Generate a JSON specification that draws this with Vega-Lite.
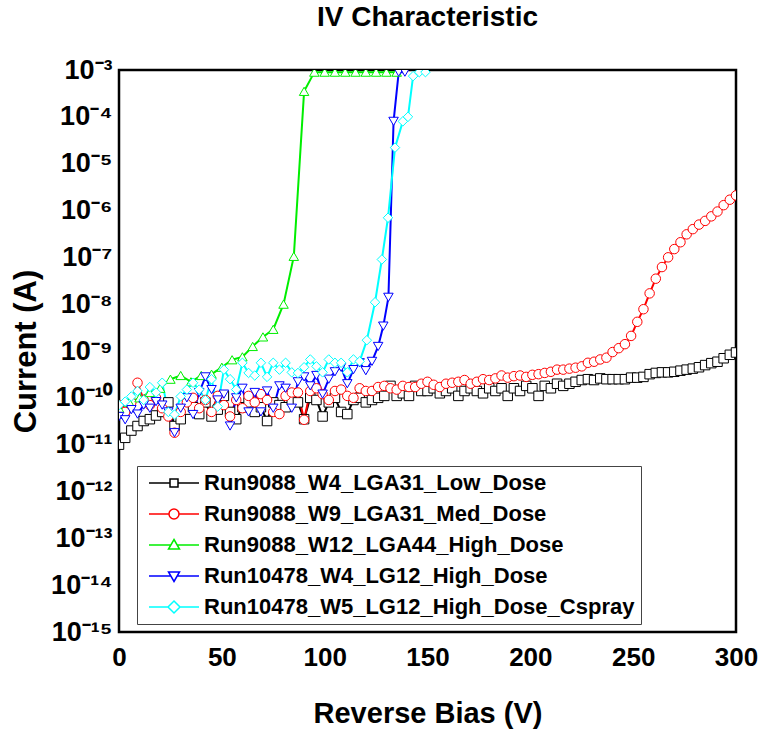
{
  "$schema": "https://vega.github.io/schema/vega-lite/v6.json",
  "width": 617,
  "height": 562,
  "autosize": "none",
  "padding": {"left": 119, "top": 70, "right": 34, "bottom": 104},
  "background": "white",
  "config": {"view": {"stroke": "black", "strokeWidth": 2.5}},
  "title": {"text": "IV Characteristic", "font": "Liberation Sans", "fontSize": 28, "fontWeight": "bold", "color": "black", "anchor": "middle", "offset": 24},
  "datasets": {
    "iv": [
      {"s":"Run9088_W4_LGA31_Low_Dose","V":0,"I":1.0e-11},{"s":"Run9088_W4_LGA31_Low_Dose","V":3,"I":1.4e-11},{"s":"Run9088_W4_LGA31_Low_Dose","V":6,"I":2.0e-11},{"s":"Run9088_W4_LGA31_Low_Dose","V":9,"I":2.5e-11},{"s":"Run9088_W4_LGA31_Low_Dose","V":12,"I":3.2e-11},{"s":"Run9088_W4_LGA31_Low_Dose","V":15,"I":3.5e-11},{"s":"Run9088_W4_LGA31_Low_Dose","V":18,"I":4.2e-11},{"s":"Run9088_W4_LGA31_Low_Dose","V":21,"I":5.0e-11},{"s":"Run9088_W4_LGA31_Low_Dose","V":24,"I":8.0e-11},{"s":"Run9088_W4_LGA31_Low_Dose","V":27,"I":2.5e-11},
      {"s":"Run9088_W4_LGA31_Low_Dose","V":30,"I":3.5e-11},{"s":"Run9088_W4_LGA31_Low_Dose","V":33,"I":5.6e-11},{"s":"Run9088_W4_LGA31_Low_Dose","V":36,"I":6.3e-11},{"s":"Run9088_W4_LGA31_Low_Dose","V":39,"I":4.5e-11},{"s":"Run9088_W4_LGA31_Low_Dose","V":42,"I":8.0e-11},{"s":"Run9088_W4_LGA31_Low_Dose","V":45,"I":4.0e-11},{"s":"Run9088_W4_LGA31_Low_Dose","V":48,"I":5.6e-11},{"s":"Run9088_W4_LGA31_Low_Dose","V":51,"I":1.1e-10},{"s":"Run9088_W4_LGA31_Low_Dose","V":54,"I":5.0e-11},{"s":"Run9088_W4_LGA31_Low_Dose","V":57,"I":3.5e-11},
      {"s":"Run9088_W4_LGA31_Low_Dose","V":60,"I":6.3e-11},{"s":"Run9088_W4_LGA31_Low_Dose","V":63,"I":8.0e-11},{"s":"Run9088_W4_LGA31_Low_Dose","V":66,"I":5.0e-11},{"s":"Run9088_W4_LGA31_Low_Dose","V":69,"I":6.3e-11},{"s":"Run9088_W4_LGA31_Low_Dose","V":72,"I":3.2e-11},{"s":"Run9088_W4_LGA31_Low_Dose","V":75,"I":8.0e-11},{"s":"Run9088_W4_LGA31_Low_Dose","V":78,"I":7.0e-11},{"s":"Run9088_W4_LGA31_Low_Dose","V":81,"I":6.3e-11},{"s":"Run9088_W4_LGA31_Low_Dose","V":84,"I":9.0e-11},{"s":"Run9088_W4_LGA31_Low_Dose","V":87,"I":8.0e-11},
      {"s":"Run9088_W4_LGA31_Low_Dose","V":90,"I":3.5e-11},{"s":"Run9088_W4_LGA31_Low_Dose","V":93,"I":1.0e-10},{"s":"Run9088_W4_LGA31_Low_Dose","V":96,"I":9.0e-11},{"s":"Run9088_W4_LGA31_Low_Dose","V":99,"I":4.0e-11},{"s":"Run9088_W4_LGA31_Low_Dose","V":102,"I":8.0e-11},{"s":"Run9088_W4_LGA31_Low_Dose","V":105,"I":1.0e-10},{"s":"Run9088_W4_LGA31_Low_Dose","V":108,"I":5.0e-11},{"s":"Run9088_W4_LGA31_Low_Dose","V":111,"I":4.5e-11},{"s":"Run9088_W4_LGA31_Low_Dose","V":114,"I":9.0e-11},{"s":"Run9088_W4_LGA31_Low_Dose","V":117,"I":1.0e-10},
      {"s":"Run9088_W4_LGA31_Low_Dose","V":120,"I":8.0e-11},{"s":"Run9088_W4_LGA31_Low_Dose","V":123,"I":9.0e-11},{"s":"Run9088_W4_LGA31_Low_Dose","V":126,"I":1.0e-10},{"s":"Run9088_W4_LGA31_Low_Dose","V":129,"I":1.1e-10},{"s":"Run9088_W4_LGA31_Low_Dose","V":132,"I":1.8e-10},{"s":"Run9088_W4_LGA31_Low_Dose","V":135,"I":1.1e-10},{"s":"Run9088_W4_LGA31_Low_Dose","V":138,"I":1.25e-10},{"s":"Run9088_W4_LGA31_Low_Dose","V":141,"I":1.1e-10},{"s":"Run9088_W4_LGA31_Low_Dose","V":144,"I":1.8e-10},{"s":"Run9088_W4_LGA31_Low_Dose","V":147,"I":1.4e-10},
      {"s":"Run9088_W4_LGA31_Low_Dose","V":150,"I":1.4e-10},{"s":"Run9088_W4_LGA31_Low_Dose","V":153,"I":1.6e-10},{"s":"Run9088_W4_LGA31_Low_Dose","V":156,"I":1.25e-10},{"s":"Run9088_W4_LGA31_Low_Dose","V":159,"I":1.4e-10},{"s":"Run9088_W4_LGA31_Low_Dose","V":162,"I":1.6e-10},{"s":"Run9088_W4_LGA31_Low_Dose","V":165,"I":1.1e-10},{"s":"Run9088_W4_LGA31_Low_Dose","V":168,"I":1.4e-10},{"s":"Run9088_W4_LGA31_Low_Dose","V":171,"I":1.6e-10},{"s":"Run9088_W4_LGA31_Low_Dose","V":174,"I":1.4e-10},{"s":"Run9088_W4_LGA31_Low_Dose","V":177,"I":1.25e-10},
      {"s":"Run9088_W4_LGA31_Low_Dose","V":180,"I":1.6e-10},{"s":"Run9088_W4_LGA31_Low_Dose","V":183,"I":1.4e-10},{"s":"Run9088_W4_LGA31_Low_Dose","V":186,"I":1.6e-10},{"s":"Run9088_W4_LGA31_Low_Dose","V":189,"I":1.1e-10},{"s":"Run9088_W4_LGA31_Low_Dose","V":192,"I":1.6e-10},{"s":"Run9088_W4_LGA31_Low_Dose","V":195,"I":1.4e-10},{"s":"Run9088_W4_LGA31_Low_Dose","V":198,"I":1.8e-10},{"s":"Run9088_W4_LGA31_Low_Dose","V":201,"I":1.6e-10},{"s":"Run9088_W4_LGA31_Low_Dose","V":204,"I":1.1e-10},{"s":"Run9088_W4_LGA31_Low_Dose","V":207,"I":1.8e-10},
      {"s":"Run9088_W4_LGA31_Low_Dose","V":210,"I":1.6e-10},{"s":"Run9088_W4_LGA31_Low_Dose","V":213,"I":2.0e-10},{"s":"Run9088_W4_LGA31_Low_Dose","V":216,"I":1.8e-10},{"s":"Run9088_W4_LGA31_Low_Dose","V":219,"I":2.0e-10},{"s":"Run9088_W4_LGA31_Low_Dose","V":222,"I":2.2e-10},{"s":"Run9088_W4_LGA31_Low_Dose","V":225,"I":2.4e-10},{"s":"Run9088_W4_LGA31_Low_Dose","V":228,"I":2.5e-10},{"s":"Run9088_W4_LGA31_Low_Dose","V":231,"I":2.4e-10},{"s":"Run9088_W4_LGA31_Low_Dose","V":234,"I":2.6e-10},{"s":"Run9088_W4_LGA31_Low_Dose","V":237,"I":2.5e-10},
      {"s":"Run9088_W4_LGA31_Low_Dose","V":240,"I":2.5e-10},{"s":"Run9088_W4_LGA31_Low_Dose","V":243,"I":2.5e-10},{"s":"Run9088_W4_LGA31_Low_Dose","V":246,"I":2.5e-10},{"s":"Run9088_W4_LGA31_Low_Dose","V":249,"I":2.7e-10},{"s":"Run9088_W4_LGA31_Low_Dose","V":252,"I":2.7e-10},{"s":"Run9088_W4_LGA31_Low_Dose","V":255,"I":2.8e-10},{"s":"Run9088_W4_LGA31_Low_Dose","V":258,"I":3.2e-10},{"s":"Run9088_W4_LGA31_Low_Dose","V":261,"I":3.4e-10},{"s":"Run9088_W4_LGA31_Low_Dose","V":264,"I":3.5e-10},{"s":"Run9088_W4_LGA31_Low_Dose","V":267,"I":3.5e-10},
      {"s":"Run9088_W4_LGA31_Low_Dose","V":270,"I":3.6e-10},{"s":"Run9088_W4_LGA31_Low_Dose","V":273,"I":3.8e-10},{"s":"Run9088_W4_LGA31_Low_Dose","V":276,"I":4.0e-10},{"s":"Run9088_W4_LGA31_Low_Dose","V":279,"I":4.2e-10},{"s":"Run9088_W4_LGA31_Low_Dose","V":282,"I":4.5e-10},{"s":"Run9088_W4_LGA31_Low_Dose","V":285,"I":5.0e-10},{"s":"Run9088_W4_LGA31_Low_Dose","V":288,"I":5.5e-10},{"s":"Run9088_W4_LGA31_Low_Dose","V":291,"I":5.9e-10},{"s":"Run9088_W4_LGA31_Low_Dose","V":294,"I":7.0e-10},{"s":"Run9088_W4_LGA31_Low_Dose","V":297,"I":8.3e-10},{"s":"Run9088_W4_LGA31_Low_Dose","V":300,"I":9.3e-10},

      {"s":"Run9088_W9_LGA31_Med_Dose","V":0,"I":7e-11},{"s":"Run9088_W9_LGA31_Med_Dose","V":3,"I":5e-11},{"s":"Run9088_W9_LGA31_Med_Dose","V":6,"I":8e-11},{"s":"Run9088_W9_LGA31_Med_Dose","V":9,"I":2.1e-10},{"s":"Run9088_W9_LGA31_Med_Dose","V":12,"I":9e-11},{"s":"Run9088_W9_LGA31_Med_Dose","V":15,"I":7e-11},{"s":"Run9088_W9_LGA31_Med_Dose","V":18,"I":1.0e-10},{"s":"Run9088_W9_LGA31_Med_Dose","V":21,"I":6e-11},{"s":"Run9088_W9_LGA31_Med_Dose","V":24,"I":4e-11},{"s":"Run9088_W9_LGA31_Med_Dose","V":27,"I":1.8e-11},
      {"s":"Run9088_W9_LGA31_Med_Dose","V":30,"I":5e-11},{"s":"Run9088_W9_LGA31_Med_Dose","V":33,"I":8e-11},{"s":"Run9088_W9_LGA31_Med_Dose","V":36,"I":1.0e-10},{"s":"Run9088_W9_LGA31_Med_Dose","V":39,"I":6e-11},{"s":"Run9088_W9_LGA31_Med_Dose","V":42,"I":9e-11},{"s":"Run9088_W9_LGA31_Med_Dose","V":45,"I":5e-11},{"s":"Run9088_W9_LGA31_Med_Dose","V":48,"I":1.1e-10},{"s":"Run9088_W9_LGA31_Med_Dose","V":51,"I":7e-11},{"s":"Run9088_W9_LGA31_Med_Dose","V":54,"I":4e-11},{"s":"Run9088_W9_LGA31_Med_Dose","V":57,"I":9e-11},
      {"s":"Run9088_W9_LGA31_Med_Dose","V":60,"I":6e-11},{"s":"Run9088_W9_LGA31_Med_Dose","V":63,"I":1.1e-10},{"s":"Run9088_W9_LGA31_Med_Dose","V":66,"I":8e-11},{"s":"Run9088_W9_LGA31_Med_Dose","V":69,"I":1.2e-10},{"s":"Run9088_W9_LGA31_Med_Dose","V":72,"I":9e-11},{"s":"Run9088_W9_LGA31_Med_Dose","V":75,"I":5e-11},{"s":"Run9088_W9_LGA31_Med_Dose","V":78,"I":4.5e-11},{"s":"Run9088_W9_LGA31_Med_Dose","V":81,"I":1.1e-10},{"s":"Run9088_W9_LGA31_Med_Dose","V":84,"I":1.3e-10},{"s":"Run9088_W9_LGA31_Med_Dose","V":87,"I":1.3e-10},
      {"s":"Run9088_W9_LGA31_Med_Dose","V":90,"I":3.4e-11},{"s":"Run9088_W9_LGA31_Med_Dose","V":93,"I":1.4e-10},{"s":"Run9088_W9_LGA31_Med_Dose","V":96,"I":1.6e-10},{"s":"Run9088_W9_LGA31_Med_Dose","V":99,"I":1.2e-10},{"s":"Run9088_W9_LGA31_Med_Dose","V":102,"I":9e-11},{"s":"Run9088_W9_LGA31_Med_Dose","V":105,"I":1.4e-10},{"s":"Run9088_W9_LGA31_Med_Dose","V":108,"I":1.5e-10},{"s":"Run9088_W9_LGA31_Med_Dose","V":111,"I":1.1e-10},{"s":"Run9088_W9_LGA31_Med_Dose","V":114,"I":1.0e-10},{"s":"Run9088_W9_LGA31_Med_Dose","V":117,"I":1.6e-10},
      {"s":"Run9088_W9_LGA31_Med_Dose","V":120,"I":1.4e-10},{"s":"Run9088_W9_LGA31_Med_Dose","V":123,"I":1.4e-10},{"s":"Run9088_W9_LGA31_Med_Dose","V":126,"I":1.7e-10},{"s":"Run9088_W9_LGA31_Med_Dose","V":129,"I":1.8e-10},{"s":"Run9088_W9_LGA31_Med_Dose","V":132,"I":1.6e-10},{"s":"Run9088_W9_LGA31_Med_Dose","V":135,"I":1.5e-10},{"s":"Run9088_W9_LGA31_Med_Dose","V":138,"I":1.8e-10},{"s":"Run9088_W9_LGA31_Med_Dose","V":141,"I":1.7e-10},{"s":"Run9088_W9_LGA31_Med_Dose","V":144,"I":1.7e-10},{"s":"Run9088_W9_LGA31_Med_Dose","V":147,"I":2.0e-10},
      {"s":"Run9088_W9_LGA31_Med_Dose","V":150,"I":2.2e-10},{"s":"Run9088_W9_LGA31_Med_Dose","V":153,"I":1.9e-10},{"s":"Run9088_W9_LGA31_Med_Dose","V":156,"I":1.7e-10},{"s":"Run9088_W9_LGA31_Med_Dose","V":159,"I":2.0e-10},{"s":"Run9088_W9_LGA31_Med_Dose","V":162,"I":2.1e-10},{"s":"Run9088_W9_LGA31_Med_Dose","V":165,"I":2.2e-10},{"s":"Run9088_W9_LGA31_Med_Dose","V":168,"I":2.4e-10},{"s":"Run9088_W9_LGA31_Med_Dose","V":171,"I":2.0e-10},{"s":"Run9088_W9_LGA31_Med_Dose","V":174,"I":2.2e-10},{"s":"Run9088_W9_LGA31_Med_Dose","V":177,"I":2.5e-10},
      {"s":"Run9088_W9_LGA31_Med_Dose","V":180,"I":2.4e-10},{"s":"Run9088_W9_LGA31_Med_Dose","V":183,"I":2.6e-10},{"s":"Run9088_W9_LGA31_Med_Dose","V":186,"I":3.0e-10},{"s":"Run9088_W9_LGA31_Med_Dose","V":189,"I":2.7e-10},{"s":"Run9088_W9_LGA31_Med_Dose","V":192,"I":2.9e-10},{"s":"Run9088_W9_LGA31_Med_Dose","V":195,"I":3.0e-10},{"s":"Run9088_W9_LGA31_Med_Dose","V":198,"I":2.8e-10},{"s":"Run9088_W9_LGA31_Med_Dose","V":201,"I":3.1e-10},{"s":"Run9088_W9_LGA31_Med_Dose","V":204,"I":3.2e-10},{"s":"Run9088_W9_LGA31_Med_Dose","V":207,"I":3.4e-10},
      {"s":"Run9088_W9_LGA31_Med_Dose","V":210,"I":3.6e-10},{"s":"Run9088_W9_LGA31_Med_Dose","V":213,"I":4.0e-10},{"s":"Run9088_W9_LGA31_Med_Dose","V":216,"I":4.0e-10},{"s":"Run9088_W9_LGA31_Med_Dose","V":219,"I":4.2e-10},{"s":"Run9088_W9_LGA31_Med_Dose","V":222,"I":4.4e-10},{"s":"Run9088_W9_LGA31_Med_Dose","V":225,"I":4.7e-10},{"s":"Run9088_W9_LGA31_Med_Dose","V":228,"I":5.6e-10},{"s":"Run9088_W9_LGA31_Med_Dose","V":231,"I":5.9e-10},{"s":"Run9088_W9_LGA31_Med_Dose","V":234,"I":6.6e-10},{"s":"Run9088_W9_LGA31_Med_Dose","V":237,"I":7.2e-10},
      {"s":"Run9088_W9_LGA31_Med_Dose","V":240,"I":9.5e-10},{"s":"Run9088_W9_LGA31_Med_Dose","V":243,"I":1.15e-9},{"s":"Run9088_W9_LGA31_Med_Dose","V":246,"I":1.4e-9},{"s":"Run9088_W9_LGA31_Med_Dose","V":249,"I":2.1e-9},{"s":"Run9088_W9_LGA31_Med_Dose","V":252,"I":4.2e-9},{"s":"Run9088_W9_LGA31_Med_Dose","V":255,"I":7.8e-9},{"s":"Run9088_W9_LGA31_Med_Dose","V":258,"I":1.7e-8},{"s":"Run9088_W9_LGA31_Med_Dose","V":261,"I":3.5e-8},{"s":"Run9088_W9_LGA31_Med_Dose","V":264,"I":6.2e-8},{"s":"Run9088_W9_LGA31_Med_Dose","V":267,"I":1.0e-7},
      {"s":"Run9088_W9_LGA31_Med_Dose","V":270,"I":1.5e-7},{"s":"Run9088_W9_LGA31_Med_Dose","V":273,"I":2.1e-7},{"s":"Run9088_W9_LGA31_Med_Dose","V":276,"I":3.1e-7},{"s":"Run9088_W9_LGA31_Med_Dose","V":279,"I":4.0e-7},{"s":"Run9088_W9_LGA31_Med_Dose","V":282,"I":5.0e-7},{"s":"Run9088_W9_LGA31_Med_Dose","V":285,"I":6.0e-7},{"s":"Run9088_W9_LGA31_Med_Dose","V":288,"I":7.5e-7},{"s":"Run9088_W9_LGA31_Med_Dose","V":291,"I":9.5e-7},{"s":"Run9088_W9_LGA31_Med_Dose","V":294,"I":1.3e-6},{"s":"Run9088_W9_LGA31_Med_Dose","V":297,"I":1.7e-6},{"s":"Run9088_W9_LGA31_Med_Dose","V":300,"I":2.1e-6},

      {"s":"Run9088_W12_LGA44_High_Dose","V":0,"I":6e-11},{"s":"Run9088_W12_LGA44_High_Dose","V":5,"I":8e-11},{"s":"Run9088_W12_LGA44_High_Dose","V":10,"I":1.0e-10},{"s":"Run9088_W12_LGA44_High_Dose","V":15,"I":1.3e-10},{"s":"Run9088_W12_LGA44_High_Dose","V":20,"I":1.6e-10},{"s":"Run9088_W12_LGA44_High_Dose","V":25,"I":2.5e-10},{"s":"Run9088_W12_LGA44_High_Dose","V":30,"I":3.0e-10},{"s":"Run9088_W12_LGA44_High_Dose","V":35,"I":2.2e-10},{"s":"Run9088_W12_LGA44_High_Dose","V":40,"I":3.0e-10},{"s":"Run9088_W12_LGA44_High_Dose","V":45,"I":3.2e-10},
      {"s":"Run9088_W12_LGA44_High_Dose","V":50,"I":4.5e-10},{"s":"Run9088_W12_LGA44_High_Dose","V":55,"I":6.5e-10},{"s":"Run9088_W12_LGA44_High_Dose","V":60,"I":7.5e-10},{"s":"Run9088_W12_LGA44_High_Dose","V":65,"I":1.25e-9},{"s":"Run9088_W12_LGA44_High_Dose","V":70,"I":2.0e-9},{"s":"Run9088_W12_LGA44_High_Dose","V":75,"I":2.9e-9},{"s":"Run9088_W12_LGA44_High_Dose","V":80,"I":1.0e-8},{"s":"Run9088_W12_LGA44_High_Dose","V":85,"I":1.05e-7},{"s":"Run9088_W12_LGA44_High_Dose","V":90,"I":3.5e-4},{"s":"Run9088_W12_LGA44_High_Dose","V":95,"I":9e-4},
      {"s":"Run9088_W12_LGA44_High_Dose","V":100,"I":9e-4},{"s":"Run9088_W12_LGA44_High_Dose","V":105,"I":9e-4},{"s":"Run9088_W12_LGA44_High_Dose","V":110,"I":9e-4},{"s":"Run9088_W12_LGA44_High_Dose","V":115,"I":9e-4},{"s":"Run9088_W12_LGA44_High_Dose","V":120,"I":9e-4},{"s":"Run9088_W12_LGA44_High_Dose","V":125,"I":9e-4},{"s":"Run9088_W12_LGA44_High_Dose","V":130,"I":9e-4},{"s":"Run9088_W12_LGA44_High_Dose","V":135,"I":9e-4},

      {"s":"Run10478_W4_LG12_High_Dose","V":0,"I":4e-11},{"s":"Run10478_W4_LG12_High_Dose","V":3,"I":3.4e-11},{"s":"Run10478_W4_LG12_High_Dose","V":6,"I":5.6e-11},{"s":"Run10478_W4_LG12_High_Dose","V":9,"I":4.5e-11},{"s":"Run10478_W4_LG12_High_Dose","V":12,"I":7e-11},{"s":"Run10478_W4_LG12_High_Dose","V":15,"I":6e-11},{"s":"Run10478_W4_LG12_High_Dose","V":18,"I":8.3e-11},{"s":"Run10478_W4_LG12_High_Dose","V":21,"I":7e-11},{"s":"Run10478_W4_LG12_High_Dose","V":24,"I":5e-11},{"s":"Run10478_W4_LG12_High_Dose","V":27,"I":1.8e-11},
      {"s":"Run10478_W4_LG12_High_Dose","V":30,"I":6e-11},{"s":"Run10478_W4_LG12_High_Dose","V":33,"I":1.0e-10},{"s":"Run10478_W4_LG12_High_Dose","V":36,"I":4.4e-11},{"s":"Run10478_W4_LG12_High_Dose","V":39,"I":1.3e-10},{"s":"Run10478_W4_LG12_High_Dose","V":42,"I":2.8e-10},{"s":"Run10478_W4_LG12_High_Dose","V":45,"I":1.5e-10},{"s":"Run10478_W4_LG12_High_Dose","V":48,"I":9e-11},{"s":"Run10478_W4_LG12_High_Dose","V":51,"I":1.2e-10},{"s":"Run10478_W4_LG12_High_Dose","V":54,"I":2.5e-11},{"s":"Run10478_W4_LG12_High_Dose","V":57,"I":1.0e-10},
      {"s":"Run10478_W4_LG12_High_Dose","V":60,"I":1.6e-10},{"s":"Run10478_W4_LG12_High_Dose","V":63,"I":5e-11},{"s":"Run10478_W4_LG12_High_Dose","V":66,"I":1.3e-10},{"s":"Run10478_W4_LG12_High_Dose","V":69,"I":5e-11},{"s":"Run10478_W4_LG12_High_Dose","V":72,"I":1.4e-10},{"s":"Run10478_W4_LG12_High_Dose","V":75,"I":6e-11},{"s":"Run10478_W4_LG12_High_Dose","V":78,"I":1.8e-10},{"s":"Run10478_W4_LG12_High_Dose","V":81,"I":1.6e-10},{"s":"Run10478_W4_LG12_High_Dose","V":84,"I":6e-11},{"s":"Run10478_W4_LG12_High_Dose","V":87,"I":2.2e-10},
      {"s":"Run10478_W4_LG12_High_Dose","V":90,"I":2.8e-10},{"s":"Run10478_W4_LG12_High_Dose","V":93,"I":1.8e-10},{"s":"Run10478_W4_LG12_High_Dose","V":96,"I":3.0e-10},{"s":"Run10478_W4_LG12_High_Dose","V":99,"I":1.2e-10},{"s":"Run10478_W4_LG12_High_Dose","V":102,"I":2.5e-10},{"s":"Run10478_W4_LG12_High_Dose","V":105,"I":3.6e-10},{"s":"Run10478_W4_LG12_High_Dose","V":108,"I":4.5e-10},{"s":"Run10478_W4_LG12_High_Dose","V":111,"I":2.0e-10},{"s":"Run10478_W4_LG12_High_Dose","V":114,"I":4.0e-10},{"s":"Run10478_W4_LG12_High_Dose","V":117,"I":5.6e-10},
      {"s":"Run10478_W4_LG12_High_Dose","V":120,"I":3.8e-10},{"s":"Run10478_W4_LG12_High_Dose","V":123,"I":6e-10},{"s":"Run10478_W4_LG12_High_Dose","V":126,"I":1.25e-9},{"s":"Run10478_W4_LG12_High_Dose","V":128.5,"I":3.4e-9},{"s":"Run10478_W4_LG12_High_Dose","V":131,"I":1.4e-8},{"s":"Run10478_W4_LG12_High_Dose","V":133.5,"I":8e-5},{"s":"Run10478_W4_LG12_High_Dose","V":136,"I":9e-4},{"s":"Run10478_W4_LG12_High_Dose","V":139,"I":9e-4},

      {"s":"Run10478_W5_LG12_High_Dose_Cspray","V":0,"I":7e-11},{"s":"Run10478_W5_LG12_High_Dose_Cspray","V":3,"I":8.3e-11},{"s":"Run10478_W5_LG12_High_Dose_Cspray","V":6,"I":1.07e-10},{"s":"Run10478_W5_LG12_High_Dose_Cspray","V":9,"I":1.4e-10},{"s":"Run10478_W5_LG12_High_Dose_Cspray","V":12,"I":9e-11},{"s":"Run10478_W5_LG12_High_Dose_Cspray","V":15,"I":1.7e-10},{"s":"Run10478_W5_LG12_High_Dose_Cspray","V":18,"I":1.3e-10},{"s":"Run10478_W5_LG12_High_Dose_Cspray","V":21,"I":2.1e-10},{"s":"Run10478_W5_LG12_High_Dose_Cspray","V":24,"I":5e-11},{"s":"Run10478_W5_LG12_High_Dose_Cspray","V":27,"I":4.4e-11},
      {"s":"Run10478_W5_LG12_High_Dose_Cspray","V":30,"I":1.07e-10},{"s":"Run10478_W5_LG12_High_Dose_Cspray","V":33,"I":1.5e-10},{"s":"Run10478_W5_LG12_High_Dose_Cspray","V":36,"I":2.1e-10},{"s":"Run10478_W5_LG12_High_Dose_Cspray","V":39,"I":1.5e-10},{"s":"Run10478_W5_LG12_High_Dose_Cspray","V":42,"I":9e-11},{"s":"Run10478_W5_LG12_High_Dose_Cspray","V":45,"I":2.5e-10},{"s":"Run10478_W5_LG12_High_Dose_Cspray","V":48,"I":6.5e-11},{"s":"Run10478_W5_LG12_High_Dose_Cspray","V":51,"I":4e-10},{"s":"Run10478_W5_LG12_High_Dose_Cspray","V":54,"I":2.5e-10},{"s":"Run10478_W5_LG12_High_Dose_Cspray","V":57,"I":1.5e-10},
      {"s":"Run10478_W5_LG12_High_Dose_Cspray","V":60,"I":5.6e-10},{"s":"Run10478_W5_LG12_High_Dose_Cspray","V":63,"I":3.4e-10},{"s":"Run10478_W5_LG12_High_Dose_Cspray","V":66,"I":3.0e-10},{"s":"Run10478_W5_LG12_High_Dose_Cspray","V":69,"I":5.6e-10},{"s":"Run10478_W5_LG12_High_Dose_Cspray","V":72,"I":2.8e-10},{"s":"Run10478_W5_LG12_High_Dose_Cspray","V":75,"I":5.6e-10},{"s":"Run10478_W5_LG12_High_Dose_Cspray","V":78,"I":4.0e-10},{"s":"Run10478_W5_LG12_High_Dose_Cspray","V":81,"I":5.6e-10},{"s":"Run10478_W5_LG12_High_Dose_Cspray","V":84,"I":3.5e-10},{"s":"Run10478_W5_LG12_High_Dose_Cspray","V":87,"I":3.4e-10},
      {"s":"Run10478_W5_LG12_High_Dose_Cspray","V":90,"I":4.5e-10},{"s":"Run10478_W5_LG12_High_Dose_Cspray","V":93,"I":6.6e-10},{"s":"Run10478_W5_LG12_High_Dose_Cspray","V":96,"I":4.7e-10},{"s":"Run10478_W5_LG12_High_Dose_Cspray","V":99,"I":3.5e-10},{"s":"Run10478_W5_LG12_High_Dose_Cspray","V":102,"I":6.6e-10},{"s":"Run10478_W5_LG12_High_Dose_Cspray","V":105,"I":5.6e-10},{"s":"Run10478_W5_LG12_High_Dose_Cspray","V":108,"I":5.6e-10},{"s":"Run10478_W5_LG12_High_Dose_Cspray","V":111,"I":3.5e-10},{"s":"Run10478_W5_LG12_High_Dose_Cspray","V":114,"I":6.6e-10},{"s":"Run10478_W5_LG12_High_Dose_Cspray","V":117,"I":6.0e-10},
      {"s":"Run10478_W5_LG12_High_Dose_Cspray","V":120.5,"I":1.7e-9},{"s":"Run10478_W5_LG12_High_Dose_Cspray","V":124.5,"I":1.1e-8},{"s":"Run10478_W5_LG12_High_Dose_Cspray","V":127.8,"I":9e-8},{"s":"Run10478_W5_LG12_High_Dose_Cspray","V":130.8,"I":7e-7},{"s":"Run10478_W5_LG12_High_Dose_Cspray","V":134.2,"I":2.2e-5},{"s":"Run10478_W5_LG12_High_Dose_Cspray","V":138,"I":8e-5},{"s":"Run10478_W5_LG12_High_Dose_Cspray","V":140.5,"I":1.0e-4},{"s":"Run10478_W5_LG12_High_Dose_Cspray","V":143,"I":7.4e-4},{"s":"Run10478_W5_LG12_High_Dose_Cspray","V":146,"I":9e-4},{"s":"Run10478_W5_LG12_High_Dose_Cspray","V":149,"I":9e-4}
    ]
  },
  "data": {"name": "iv"},
  "layer": [
    {
      "mark": {"type": "line", "strokeWidth": 2, "clip": true},
      "encoding": {
        "x": {"field": "V", "type": "quantitative", "scale": {"domain": [0, 300], "nice": false, "zero": false, "padding": 0},
          "axis": {"orient": "bottom", "title": "Reverse Bias (V)", "domain": false, "ticks": false, "grid": false,
            "values": [0,50,100,150,200,250,300], "labelFlush": false, "labelOverlap": false,
            "labelFont": "Liberation Sans", "labelFontSize": 26, "labelFontWeight": "bold", "labelColor": "black", "labelPadding": 12,
            "titleFont": "Liberation Sans", "titleFontSize": 29, "titleFontWeight": "bold", "titleColor": "black", "titlePadding": 29}},
        "y": {"field": "I", "type": "quantitative", "scale": {"type": "log", "domain": [1e-15, 1e-3], "nice": false, "padding": 0},
          "axis": {"orient": "left", "title": "Current (A)", "domain": false, "ticks": false, "grid": false,
            "values": [1e-15,1e-14,1e-13,1e-12,1e-11,1e-10,1e-9,1e-8,1e-7,1e-6,1e-5,1e-4,1e-3],
            "labelExpr": "['','','','10⁻³','10⁻⁴','10⁻⁵','10⁻⁶','10⁻⁷','10⁻⁸','10⁻⁹','10⁻¹⁰','10⁻¹¹','10⁻¹²','10⁻¹³','10⁻¹⁴','10⁻¹⁵'][-round(log(datum.value)/LN10)]",
            "labelOverlap": false, "labelFlush": false,
            "labelFont": "Liberation Sans", "labelFontSize": 27, "labelFontWeight": "bold", "labelColor": "black", "labelPadding": 7,
            "titleFont": "Liberation Sans", "titleFontSize": 31, "titleFontWeight": "bold", "titleColor": "black", "titlePadding": 8}},
        "color": {"field": "s", "type": "nominal", "legend": null,
          "scale": {"domain": ["Run9088_W4_LGA31_Low_Dose","Run9088_W9_LGA31_Med_Dose","Run9088_W12_LGA44_High_Dose","Run10478_W4_LG12_High_Dose","Run10478_W5_LG12_High_Dose_Cspray"],
                    "range": ["#000000","#ff0000","#00ee00","#0000ff","#00ffff"]}}
      }
    },
    {
      "mark": {"type": "point", "filled": false, "fill": "white", "strokeWidth": 1, "size": 90, "opacity": 1, "clip": true},
      "encoding": {
        "x": {"field": "V", "type": "quantitative", "scale": {"domain": [0, 300], "nice": false, "zero": false, "padding": 0}, "axis": null},
        "y": {"field": "I", "type": "quantitative", "scale": {"type": "log", "domain": [1e-15, 1e-3], "nice": false, "padding": 0}, "axis": null},
        "color": {"field": "s", "type": "nominal", "legend": null,
          "scale": {"domain": ["Run9088_W4_LGA31_Low_Dose","Run9088_W9_LGA31_Med_Dose","Run9088_W12_LGA44_High_Dose","Run10478_W4_LG12_High_Dose","Run10478_W5_LG12_High_Dose_Cspray"],
                    "range": ["#000000","#ff0000","#00ee00","#0000ff","#00ffff"]}},
        "shape": {"field": "s", "type": "nominal", "legend": null,
          "scale": {"domain": ["Run9088_W4_LGA31_Low_Dose","Run9088_W9_LGA31_Med_Dose","Run9088_W12_LGA44_High_Dose","Run10478_W4_LG12_High_Dose","Run10478_W5_LG12_High_Dose_Cspray"],
                    "range": ["square","circle","triangle-up","triangle-down","diamond"]}}
      }
    },
    {
      "transform": [{"filter": "datum.V < -1000"}],
      "mark": {"type": "point", "filled": false, "opacity": 1},
      "encoding": {
        "x": {"field": "V", "type": "quantitative", "scale": {"domain": [0, 300], "nice": false, "zero": false, "padding": 0}, "axis": null},
        "y": {"field": "I", "type": "quantitative", "scale": {"type": "log", "domain": [1e-15, 1e-3], "nice": false, "padding": 0}, "axis": null},
        "color": {"field": "s", "type": "nominal",
          "scale": {"domain": ["Run9088_W4_LGA31_Low_Dose","Run9088_W9_LGA31_Med_Dose","Run9088_W12_LGA44_High_Dose","Run10478_W4_LG12_High_Dose","Run10478_W5_LG12_High_Dose_Cspray"],
                    "range": ["#000000","#ff0000","#00ee00","#0000ff","#00ffff"]},
          "legend": {"title": null, "orient": "none", "legendX": 18, "legendY": 396, "padding": 6, "strokeColor": "#444444", "fillColor": "white",
            "labelFont": "Liberation Sans", "labelFontSize": 22, "labelFontWeight": "bold", "labelColor": "black", "labelLimit": 600,
            "symbolSize": 100, "symbolStrokeWidth": 1.5, "symbolOffset": 20, "labelOffset": 19, "rowPadding": 9}},
        "shape": {"field": "s", "type": "nominal",
          "scale": {"domain": ["Run9088_W4_LGA31_Low_Dose","Run9088_W9_LGA31_Med_Dose","Run9088_W12_LGA44_High_Dose","Run10478_W4_LG12_High_Dose","Run10478_W5_LG12_High_Dose_Cspray"],
                    "range": ["M-5,0H-0.8M0.8,0H5M-0.8,-0.8H0.8V0.8H-0.8Z",
                              "M-5,0H-1M1,0H5M1,0A1,1,0,1,1,-1,0A1,1,0,1,1,1,0Z",
                              "M-5,0H-0.64M0.64,0H5M0,-1.1L1.1,0.8H-1.1Z",
                              "M-5,0H-0.64M0.64,0H5M0,1.1L1.1,-0.8H-1.1Z",
                              "M-5,0H-1.2M1.2,0H5M0,-1.2L1.2,0L0,1.2L-1.2,0Z"]},
          "legend": {"title": null, "orient": "none", "legendX": 18, "legendY": 396, "padding": 6, "strokeColor": "#444444", "fillColor": "white",
            "labelFont": "Liberation Sans", "labelFontSize": 22, "labelFontWeight": "bold", "labelColor": "black", "labelLimit": 600,
            "symbolSize": 100, "symbolStrokeWidth": 1.5, "symbolOffset": 20, "labelOffset": 19, "rowPadding": 9}}
      }
    }
  ],
  "resolve": {"scale": {"color": "independent", "shape": "independent"}, "axis": {"x": "independent", "y": "independent"}}
}
